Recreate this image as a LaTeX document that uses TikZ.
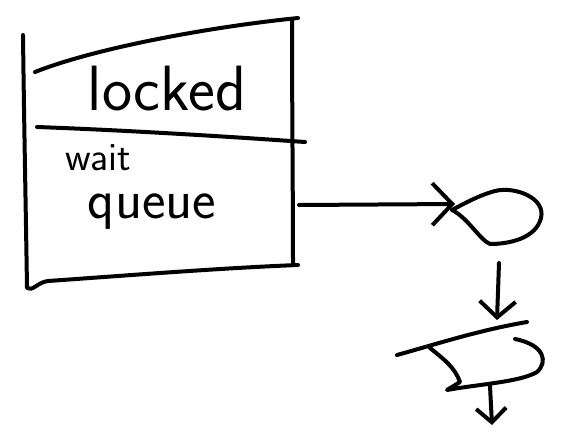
\documentclass[tikz,border=0pt]{standalone}
\usepackage{tikz}
\usetikzlibrary{arrows.meta, positioning}
\tikzset{
  pen/.style={line width=4pt,line cap=round,line join=round},
  bigarrow/.style={pen,-{Straight Barb[length=20pt,width=42pt]}},
  downarrow/.style={pen,-{Straight Barb[length=16pt,width=36pt]}},
  smallarrow/.style={pen,-{Straight Barb[length=14pt,width=30pt]}},
  label/.style={inner sep=0pt,anchor=base,font=\sffamily}
}

\begin{document}
\begin{tikzpicture}[x=1pt,y=-1pt]
  \useasboundingbox (0,0) rectangle (562,432);
  % the lock box
  \draw[pen] (23,35) .. controls (24,120) and (26,220) .. (27,288)
    .. controls (32,292) and (38,282) .. (48,281)
    .. controls (120,276) and (220,268) .. (298,265);
  \draw[pen] (292,20) .. controls (292,100) and (293,200) .. (293,265);
  \draw[pen] (35,72) .. controls (90,50) and (200,28) .. (298,18);
  \draw[pen] (37,127) .. controls (120,130) and (220,136) .. (305,142);
  \node[label,font=\sffamily\fontsize{64}{64}\selectfont] (lk) at (167,110) {locked};
  \node[label,font=\sffamily\fontsize{40}{40}\selectfont] (wt) at (98,170) {wait};
  \node[label,font=\sffamily\fontsize{56}{56}\selectfont] (qu) at (152,218) {queue};
  % first waiter
  \draw[pen] (452,210) .. controls (468,218) and (480,240) .. (490,244)
    .. controls (510,244) and (536,238) .. (541,218)
    .. controls (546,198) and (515,186) .. (495,191)
    .. controls (480,195) and (465,203) .. (452,210);
  % second waiter
  \draw[pen] (397,355) .. controls (440,343) and (480,330) .. (527,322);
  \draw[pen] (430,348) .. controls (445,360) and (455,368) .. (460,382)
    -- (447,390) .. controls (480,384) and (520,382) .. (537,372)
    .. controls (548,362) and (545,345) .. (515,339);
  % links
  \coordinate (boxout) at (299,205);
  \coordinate (w1in) at (455,204);
  \coordinate (w1out) at (499,263);
  \coordinate (w2in) at (497,320);
  \coordinate (w2out) at (490,386);
  \coordinate (w3in) at (492,425);
  \draw[bigarrow] (boxout) -- (w1in);
  \draw[downarrow] (w1out) -- (w2in);
  \draw[smallarrow] (w2out) -- (w3in);
\end{tikzpicture}
\end{document}
